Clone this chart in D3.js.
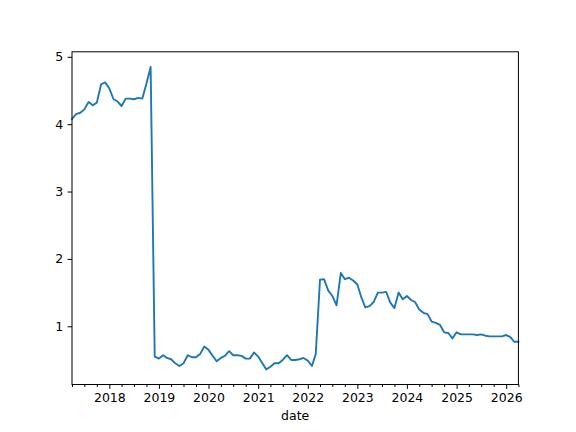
<!DOCTYPE html>
<html>
<head>
<meta charset="utf-8">
<script src="https://cdn.jsdelivr.net/npm/d3@7"></script>
<style>
  body { margin: 0; background: #fff; }
  svg text { font-family: "DejaVu Sans", sans-serif; }
</style>
</head>
<body>
<svg width="576" height="432"></svg>
<script>
// monthly series, first month 2017-04
var startMonth = '2017-04'
var values = [
  4.08, 4.15, 4.17, 4.22, 4.33, 4.28, 4.32, 4.59, 4.62, 4.53,
  4.37, 4.34, 4.27, 4.38, 4.38, 4.37, 4.39, 4.38, 4.60, 4.85,
  0.55, 0.52, 0.57, 0.53, 0.51, 0.45, 0.41, 0.45, 0.57, 0.54,
  0.54, 0.59, 0.70, 0.65, 0.56, 0.48, 0.53, 0.56, 0.63, 0.57,
  0.57, 0.56, 0.52, 0.52, 0.61, 0.55, 0.45, 0.36, 0.40, 0.45,
  0.45, 0.50, 0.57, 0.50, 0.50, 0.51, 0.53, 0.49, 0.41, 0.59,
  1.69, 1.70, 1.53, 1.45, 1.31, 1.79, 1.70, 1.72, 1.68, 1.62,
  1.42, 1.28, 1.30, 1.36, 1.50, 1.50, 1.51, 1.35, 1.27, 1.50,
  1.40, 1.45, 1.39, 1.36, 1.25, 1.20, 1.18, 1.07, 1.05, 1.02,
  0.91, 0.90, 0.82, 0.91, 0.88, 0.88, 0.88, 0.88, 0.87, 0.88,
  0.86, 0.85, 0.85, 0.85, 0.85, 0.87, 0.84, 0.77, 0.77
]
var yTicks = [1, 2, 3, 4, 5]
var yearTicks = [2018, 2019, 2020, 2021, 2022, 2023, 2024, 2025, 2026]
var xLabel = 'date'

var parseMonth = d3.timeParse('%Y-%m')
var t0 = parseMonth(startMonth)
var data = values.map(function (v, i) {
  return { date: d3.timeMonth.offset(t0, i), value: v }
})

var svg = d3.select('svg')
var margin = { left: 72, right: 57.6, top: 51.8, bottom: 47.5 }
var w = 576 - margin.left - margin.right
var h = 432 - margin.top - margin.bottom

var g = svg.append('g').attr('transform', 'translate(' + margin.left + ',' + margin.top + ')')

var x = d3.scaleTime()
  .domain(d3.extent(data, d => d.date))
  .range([0, w])

var yMin = d3.min(values)
var yMax = d3.max(values)
var pad = (yMax - yMin) * 0.05
var y = d3.scaleLinear()
  .domain([yMin - pad, yMax + pad])
  .range([h, 0])

// minor ticks every quarter
var minorTicks = d3.timeMonth.every(3).range(x.domain()[0], d3.timeDay.offset(x.domain()[1], 1))
  .filter(d => d.getMonth() !== 0)

var xMinor = d3.axisBottom(x)
  .tickValues(minorTicks)
  .tickSize(2.5)
  .tickFormat('')
g.append('g').attr('class', 'axis')
  .attr('transform', 'translate(0,' + h + ')')
  .call(xMinor)

var xAxis = d3.axisBottom(x)
  .tickValues(yearTicks.map(yr => new Date(yr, 0, 1)))
  .tickSize(4.4)
  .tickPadding(4.5)
  .tickFormat(d3.timeFormat('%Y'))
g.append('g').attr('class', 'axis')
  .attr('transform', 'translate(0,' + h + ')')
  .call(xAxis)

var yAxis = d3.axisLeft(y)
  .tickValues(yTicks)
  .tickSize(4.4)
  .tickPadding(4.5)
  .tickFormat(d3.format('d'))
g.append('g').attr('class', 'axis')
  .call(yAxis)

g.selectAll('.axis .domain').remove()
g.selectAll('.axis text').attr('font-size', 12.5).attr('fill', '#000').attr('font-family', 'DejaVu Sans')
g.selectAll('.axis line').attr('stroke', '#000').attr('stroke-width', 1)

var line = d3.line()
  .x(d => x(d.date))
  .y(d => y(d.value))

g.append('path')
  .datum(data)
  .attr('fill', 'none')
  .attr('stroke', '#1f77b4')
  .attr('stroke-width', 1.9)
  .attr('stroke-linejoin', 'round')
  .attr('stroke-linecap', 'square')
  .attr('d', line)

// frame
g.append('rect')
  .attr('width', w).attr('height', h)
  .attr('fill', 'none')
  .attr('stroke', '#000')
  .attr('stroke-width', 1)

g.append('text')
  .attr('x', w / 2)
  .attr('y', h + 36)
  .attr('text-anchor', 'middle')
  .attr('font-size', 12.5)
  .text(xLabel)
</script>
</body>
</html>
